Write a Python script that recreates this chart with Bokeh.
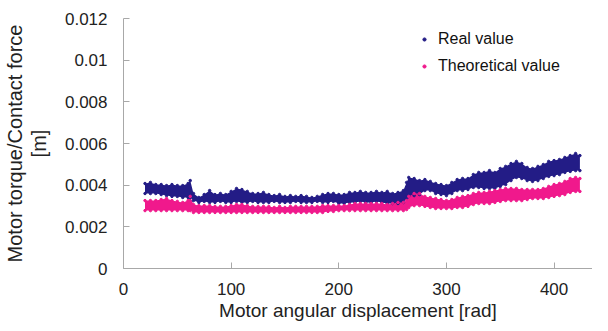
from bokeh.plotting import figure
from bokeh.models import Range1d, Legend, LegendItem, FixedTicker
from bokeh.embed import file_html
from bokeh.resources import INLINE

# ---- data ----
x = [20, 25, 30, 35, 40, 45, 50, 55, 60, 62, 65, 70, 75, 80, 85, 90, 95, 100, 105, 110,
     115, 120, 125, 130, 135, 140, 145, 150, 155, 160, 165, 170, 175, 180, 185, 190, 195, 200, 205, 210,
     215, 220, 225, 230, 235, 240, 245, 250, 255, 260, 263, 265, 270, 275, 280, 285, 290, 295, 300, 305,
     310, 315, 320, 325, 330, 335, 340, 345, 350, 355, 360, 365, 370, 375, 380, 385, 390, 395, 400, 405,
     410, 415, 420, 424]

real_hi = [0.00408, 0.00413, 0.00403, 0.00403, 0.00398, 0.00403, 0.00398, 0.00398, 0.00408, 0.00422,
           0.00360, 0.00341, 0.00355, 0.00374, 0.00355, 0.00360, 0.00355, 0.00370, 0.00384, 0.00379,
           0.00370, 0.00360, 0.00360, 0.00365, 0.00355, 0.00350, 0.00355, 0.00346, 0.00350, 0.00346,
           0.00350, 0.00346, 0.00341, 0.00346, 0.00355, 0.00360, 0.00360, 0.00355, 0.00355, 0.00365,
           0.00365, 0.00370, 0.00365, 0.00365, 0.00370, 0.00365, 0.00370, 0.00360, 0.00365, 0.00374,
           0.00413, 0.00437, 0.00432, 0.00422, 0.00427, 0.00418, 0.00408, 0.00403, 0.00398, 0.00413,
           0.00427, 0.00432, 0.00432, 0.00451, 0.00461, 0.00461, 0.00470, 0.00461, 0.00480, 0.00490,
           0.00504, 0.00514, 0.00504, 0.00485, 0.00480, 0.00490, 0.00499, 0.00514, 0.00518, 0.00523,
           0.00533, 0.00542, 0.00552, 0.00542]

real_lo = [0.00360, 0.00360, 0.00360, 0.00355, 0.00350, 0.00346, 0.00346, 0.00341, 0.00341, 0.00341,
           0.00326, 0.00317, 0.00322, 0.00317, 0.00317, 0.00322, 0.00317, 0.00317, 0.00322, 0.00317,
           0.00317, 0.00322, 0.00317, 0.00317, 0.00317, 0.00322, 0.00317, 0.00317, 0.00317, 0.00322,
           0.00317, 0.00317, 0.00317, 0.00322, 0.00317, 0.00317, 0.00322, 0.00312, 0.00312, 0.00317,
           0.00317, 0.00322, 0.00317, 0.00317, 0.00322, 0.00317, 0.00312, 0.00312, 0.00312, 0.00317,
           0.00336, 0.00346, 0.00350, 0.00355, 0.00374, 0.00374, 0.00360, 0.00355, 0.00350, 0.00360,
           0.00374, 0.00374, 0.00379, 0.00389, 0.00389, 0.00384, 0.00384, 0.00384, 0.00394, 0.00403,
           0.00422, 0.00437, 0.00432, 0.00422, 0.00418, 0.00422, 0.00432, 0.00442, 0.00446, 0.00451,
           0.00461, 0.00466, 0.00470, 0.00470]

theo_hi = [0.00326, 0.00326, 0.00326, 0.00331, 0.00336, 0.00326, 0.00322, 0.00317, 0.00326, 0.00346,
           0.00307, 0.00302, 0.00302, 0.00302, 0.00298, 0.00298, 0.00298, 0.00302, 0.00307, 0.00307,
           0.00302, 0.00298, 0.00298, 0.00298, 0.00298, 0.00293, 0.00298, 0.00293, 0.00298, 0.00298,
           0.00298, 0.00298, 0.00298, 0.00298, 0.00302, 0.00302, 0.00302, 0.00302, 0.00302, 0.00307,
           0.00312, 0.00312, 0.00312, 0.00312, 0.00312, 0.00312, 0.00307, 0.00312, 0.00317, 0.00317,
           0.00326, 0.00346, 0.00360, 0.00360, 0.00346, 0.00341, 0.00336, 0.00331, 0.00326, 0.00331,
           0.00341, 0.00346, 0.00350, 0.00360, 0.00365, 0.00365, 0.00370, 0.00374, 0.00379, 0.00384,
           0.00384, 0.00384, 0.00379, 0.00379, 0.00379, 0.00379, 0.00384, 0.00394, 0.00403, 0.00408,
           0.00418, 0.00432, 0.00437, 0.00432]

theo_lo = [0.00278, 0.00278, 0.00278, 0.00278, 0.00278, 0.00278, 0.00278, 0.00278, 0.00278, 0.00278,
           0.00269, 0.00269, 0.00269, 0.00269, 0.00269, 0.00269, 0.00269, 0.00269, 0.00269, 0.00269,
           0.00269, 0.00269, 0.00269, 0.00269, 0.00269, 0.00269, 0.00269, 0.00269, 0.00269, 0.00269,
           0.00269, 0.00269, 0.00269, 0.00269, 0.00269, 0.00274, 0.00274, 0.00278, 0.00278, 0.00278,
           0.00278, 0.00278, 0.00278, 0.00278, 0.00278, 0.00278, 0.00278, 0.00278, 0.00278, 0.00278,
           0.00283, 0.00293, 0.00302, 0.00302, 0.00298, 0.00293, 0.00288, 0.00288, 0.00288, 0.00288,
           0.00293, 0.00293, 0.00298, 0.00307, 0.00312, 0.00312, 0.00312, 0.00317, 0.00322, 0.00326,
           0.00326, 0.00326, 0.00326, 0.00331, 0.00336, 0.00336, 0.00336, 0.00341, 0.00346, 0.00350,
           0.00355, 0.00365, 0.00370, 0.00370]

x_ticks = [0, 100, 200, 300, 400]
y_ticks = [0, 0.002, 0.004, 0.006, 0.008, 0.01, 0.012]
y_tick_labels = ["0", "0.002", "0.004", "0.006", "0.008", "0.01", "0.012"]

REAL = "#231c86"
THEO = "#f0198c"
AXIS = "#a8a8a8"

p = figure(width=592, height=323, output_backend="svg", toolbar_location=None,
           x_range=Range1d(0, 435.7), y_range=Range1d(0, 0.012),
           min_border_left=120, min_border_right=0, min_border_top=18, min_border_bottom=55)
p.outline_line_color = None
p.grid.visible = False
p.background_fill_color = "white"

p.varea(x=x, y1=real_lo, y2=real_hi, fill_color=REAL)
p.varea(x=x, y1=theo_lo, y2=theo_hi, fill_color=THEO)
r_real = p.scatter(x + x, real_hi + real_lo, size=2.5, color=REAL)
r_theo = p.scatter(x + x, theo_hi + theo_lo, size=2.5, color=THEO)

p.xaxis.ticker = FixedTicker(ticks=x_ticks)
p.yaxis.ticker = FixedTicker(ticks=y_ticks)
p.yaxis.major_label_overrides = dict(zip(y_ticks, y_tick_labels))
p.xaxis.major_label_overrides = {t: str(t) for t in x_ticks}

for ax in (p.xaxis, p.yaxis):
    ax.axis_line_color = AXIS
    ax.major_tick_line_color = AXIS
    ax.minor_tick_line_color = None
    ax.major_tick_in = 6
    ax.major_tick_out = 0
    ax.major_label_text_font = "Liberation Sans"
    ax.major_label_text_font_size = "17px"
    ax.major_label_text_color = "#222222"
    ax.axis_label_text_font = "Liberation Sans"
    ax.axis_label_text_font_style = "normal"
    ax.axis_label_text_color = "#222222"

p.xaxis.axis_label = "Motor angular displacement [rad]"
p.xaxis.axis_label_text_font_size = "19px"
p.xaxis.axis_label_text_line_height = 1.0
p.yaxis.axis_label = "Motor torque/Contact force\n[m]"
p.yaxis.axis_label_text_font_size = "20px"
p.yaxis.axis_label_text_line_height = 1.1
p.xaxis.major_label_standoff = 14
p.xaxis.axis_label_standoff = 2
p.yaxis.major_label_standoff = 16
p.yaxis.axis_label_standoff = 12

legend = Legend(items=[LegendItem(label="Real value", renderers=[r_real]),
                       LegendItem(label="Theoretical value", renderers=[r_theo])],
                location=(297, 192), border_line_color=None, background_fill_alpha=0,
                padding=0, margin=0, spacing=7, glyph_width=8, glyph_height=8,
                label_height=20, label_standoff=10,
                label_text_font="Liberation Sans", label_text_font_size="16px",
                label_text_color="#111111")
p.add_layout(legend)

open("out.html", "w").write(file_html(p, INLINE))
